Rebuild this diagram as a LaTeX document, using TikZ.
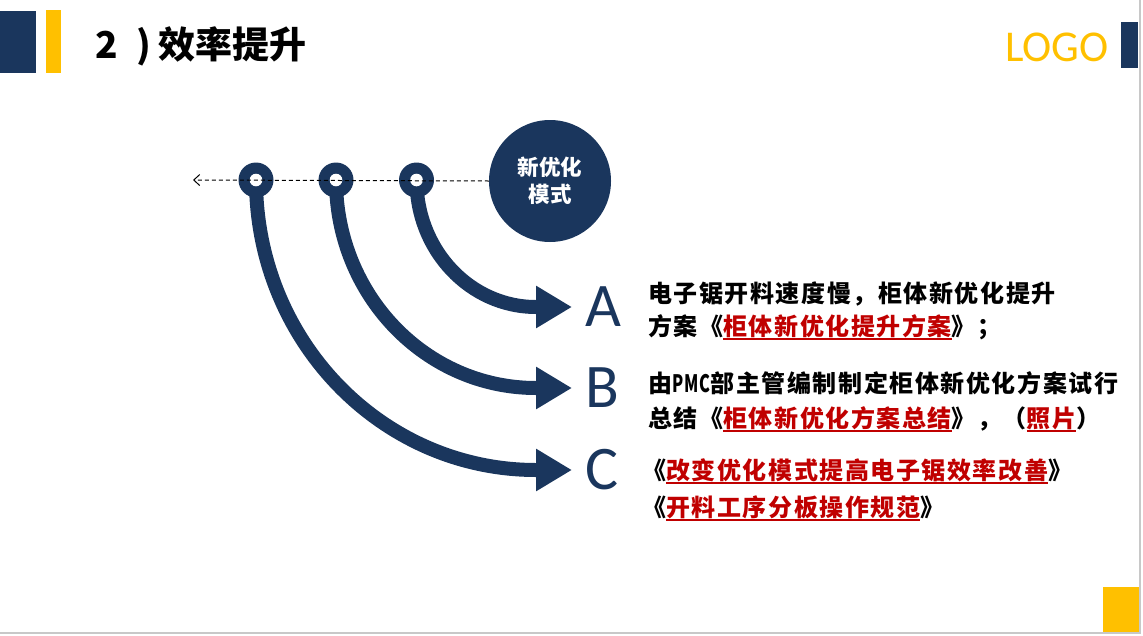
\documentclass[tikz,border=0pt]{standalone}
\usepackage{fontspec}
\usepackage{graphicx}
\usetikzlibrary{arrows.meta}
\newfontfamily\cjk[LetterSpace=6.5]{Noto Sans CJK SC}
\newfontfamily\cjkt{Noto Sans CJK SC}
\newfontfamily\carl{Carlito}
\definecolor{navy}{HTML}{1A365D}
\definecolor{gold}{HTML}{FFC000}
\definecolor{ured}{HTML}{C00000}
\definecolor{edge}{HTML}{C8C8C8}
\newcommand\redul[1]{{\color{ured}\setbox0\hbox{#1}\rlap{\rule[-4.5pt]{\wd0}{1.6pt}}\box0}}
\tikzset{
  txt/.style={anchor=base west, inner sep=0pt, font=\cjk\bfseries\fontsize{24pt}{24pt}\selectfont, text=black},
  letter/.style={anchor=base west, inner sep=0pt, font=\carl\fontsize{62pt}{62pt}\selectfont, text=navy},
  ring/.style={circle, fill=navy, minimum size=35pt, inner sep=0pt},
  hole/.style={circle, fill=white, minimum size=12.6pt, inner sep=0pt},
  flow/.style={navy, line width=14pt, -{Triangle[length=36pt,width=40pt]}},
}
\begin{document}
\begin{tikzpicture}[x=1pt,y=-1pt]
\useasboundingbox (0,0) rectangle (1143,635);
% frame decorations
\fill[navy] (0,11) rectangle (36,73);
\fill[gold] (46,10) rectangle (61,73);
\fill[navy] (1121,22) rectangle (1138,68);
\fill[gold] (1103,587) rectangle (1139,632);
\draw[edge, line width=1.2pt] (1140,0) -- (1140,633) -- (0,633);
% title
\node[anchor=base west, inner sep=0pt, font=\cjkt\bfseries\fontsize{37pt}{37pt}\selectfont] (title) at (95,58) {2\hspace{19pt})\hspace{7pt}效率提升};
\node[anchor=base west, inner sep=0pt, font=\carl\fontsize{44pt}{44pt}\selectfont, text=gold] (logo) at (1005,61) {LOGO};
% ring positions
\coordinate (rC) at (256,180);
\coordinate (rB) at (336,180);
\coordinate (rA) at (416.5,180);
\coordinate (tA) at (572,307);
\coordinate (tB) at (572,388);
\coordinate (tC) at (572,470);
% arcs
\draw[flow] (rA) arc[start angle=180, end angle=270, x radius=119.5pt, y radius=127pt] -- (tA);
\draw[flow] (rB) arc[start angle=180, end angle=270, x radius=200pt, y radius=208pt] -- (tB);
\draw[flow] (rC) arc[start angle=180, end angle=270, x radius=280pt, y radius=290pt] -- (tC);
% rings
\foreach \r in {rA,rB,rC} {
  \node[ring] (\r ring) at (\r) {};
  \node[hole] (\r hole) at (\r) {};
}
% main circle
\node[circle, fill=navy, minimum size=122pt, inner sep=0pt, text=white, align=center,
      font=\cjkt\bfseries\fontsize{21.5pt}{27pt}\selectfont] (main) at (550,181) {新优化\\模式};
\coordinate (dashend) at (193,180);
\draw[black, line width=1pt, dash pattern=on 4pt off 3pt, -{Straight Barb[length=6pt,width=11pt]}] (main.west) -- (dashend);
% letters
\node[letter] (A) at (585,326) {A};
\node[letter] (B) at (585,407) {B};
\node[letter] (C) at (585,489) {C};
% texts
\node[txt] (a1) at (648,302) {电子锯开料速度慢，柜体新优化提升};
\node[txt] (a2) at (648,335) {方案《\redul{柜体新优化提升方案}》；};
\node[txt] (b1) at (648,392) {由\scalebox{0.68}[1]{PMC}部主管编制制定柜体新优化方案试行};
\node[txt] (b2) at (648,427) {总结《\redul{柜体新优化方案总结}》，（\redul{照片}）};
\node[txt] (c1) at (642,479) {《\redul{改变优化模式提高电子锯效率改善}》};
\node[txt] (c2) at (642,516) {《\redul{开料工序分板操作规范}》};
\end{tikzpicture}
\end{document}
